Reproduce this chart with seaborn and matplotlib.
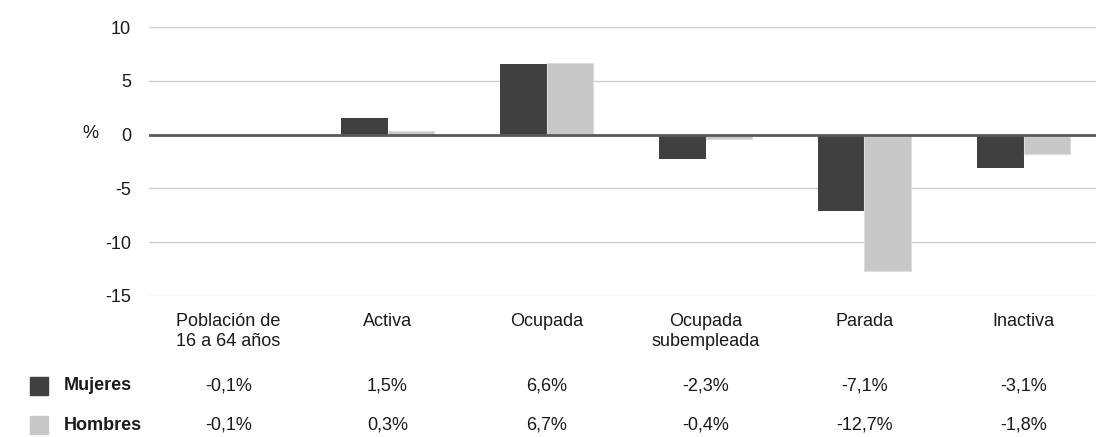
import numpy as np
import pandas as pd
import seaborn as sns
from matplotlib import pyplot as plt
from matplotlib import transforms

categorias = ['Población de\n16 a 64 años', 'Activa', 'Ocupada',
              'Ocupada\nsubempleada', 'Parada', 'Inactiva']
mujeres = [-0.1, 1.5, 6.6, -2.3, -7.1, -3.1]
hombres = [-0.1, 0.3, 6.7, -0.4, -12.7, -1.8]
series = ['Mujeres', 'Hombres']
colores = ['#404040', '#c8c8c8']

df = pd.DataFrame({
    'cat': categorias * 2,
    'sexo': ['Mujeres'] * len(categorias) + ['Hombres'] * len(categorias),
    'valor': mujeres + hombres,
})

sns.set_theme(style='white')
plt.rcParams['font.family'] = ['Liberation Sans', 'DejaVu Sans']
fs = 13

fig = plt.figure(figsize=(10.96, 4.37), dpi=100)
ax = fig.add_axes([149 / 1096, 1 - 296 / 437, 954 / 1096, 269 / 437])

sns.barplot(data=df, x='cat', y='valor', hue='sexo', palette=colores,
            width=0.58, saturation=1, legend=False, ax=ax,
            edgecolor='none')
# thin edge on light bars like the original
for p in ax.patches[len(categorias):]:
    p.set_edgecolor('#dcdcdc')
    p.set_linewidth(0.8)

ax.set_xlim(-0.5, 5.5)
ax.set_ylim(-15, 10)
ax.set_yticks([-15, -10, -5, 0, 5, 10])
ax.set_yticklabels(['-15', '-10', '-5', '0', '5', '10'], fontsize=fs, color='#1a1a1a')
ax.tick_params(axis='y', length=0, pad=13)
ax.set_xticks(range(len(categorias)))
ax.set_xticklabels(categorias, fontsize=fs, color='#1a1a1a', linespacing=1.25)
ax.tick_params(axis='x', length=0, pad=12)
ax.set_xlabel('')
ax.set_ylabel('')

ax.grid(axis='y', color='#cfcfcf', linewidth=1)
ax.set_axisbelow(True)
ax.axhline(0, color='#5a5a5a', linewidth=2, zorder=5)
for s in ax.spines.values():
    s.set_visible(False)

fig.text(90 / 1096, 1 - 134 / 437, '%', fontsize=fs, color='#1a1a1a',
         ha='center', va='center')

# data table under the chart
trans = transforms.blended_transform_factory(ax.transData, fig.transFigure)
filas = [(mujeres, 386), (hombres, 425)]
for (vals, ypx), nombre, col in zip(filas, series, colores):
    yf = 1 - ypx / 437
    fig.patches.append(plt.Rectangle((30 / 1096, yf - 9 / 437), 18 / 1096, 18 / 437,
                                     transform=fig.transFigure, color=col))
    fig.text(64 / 1096, yf, nombre, fontsize=fs, fontweight='bold',
             color='#1a1a1a', ha='left', va='center')
    for i, v in enumerate(vals):
        txt = f'{v:.1f}%'.replace('.', ',')
        ax.text(i, yf, txt, transform=trans, fontsize=fs, color='#1a1a1a',
                ha='center', va='center')

fig.savefig('out.png', dpi=100)
